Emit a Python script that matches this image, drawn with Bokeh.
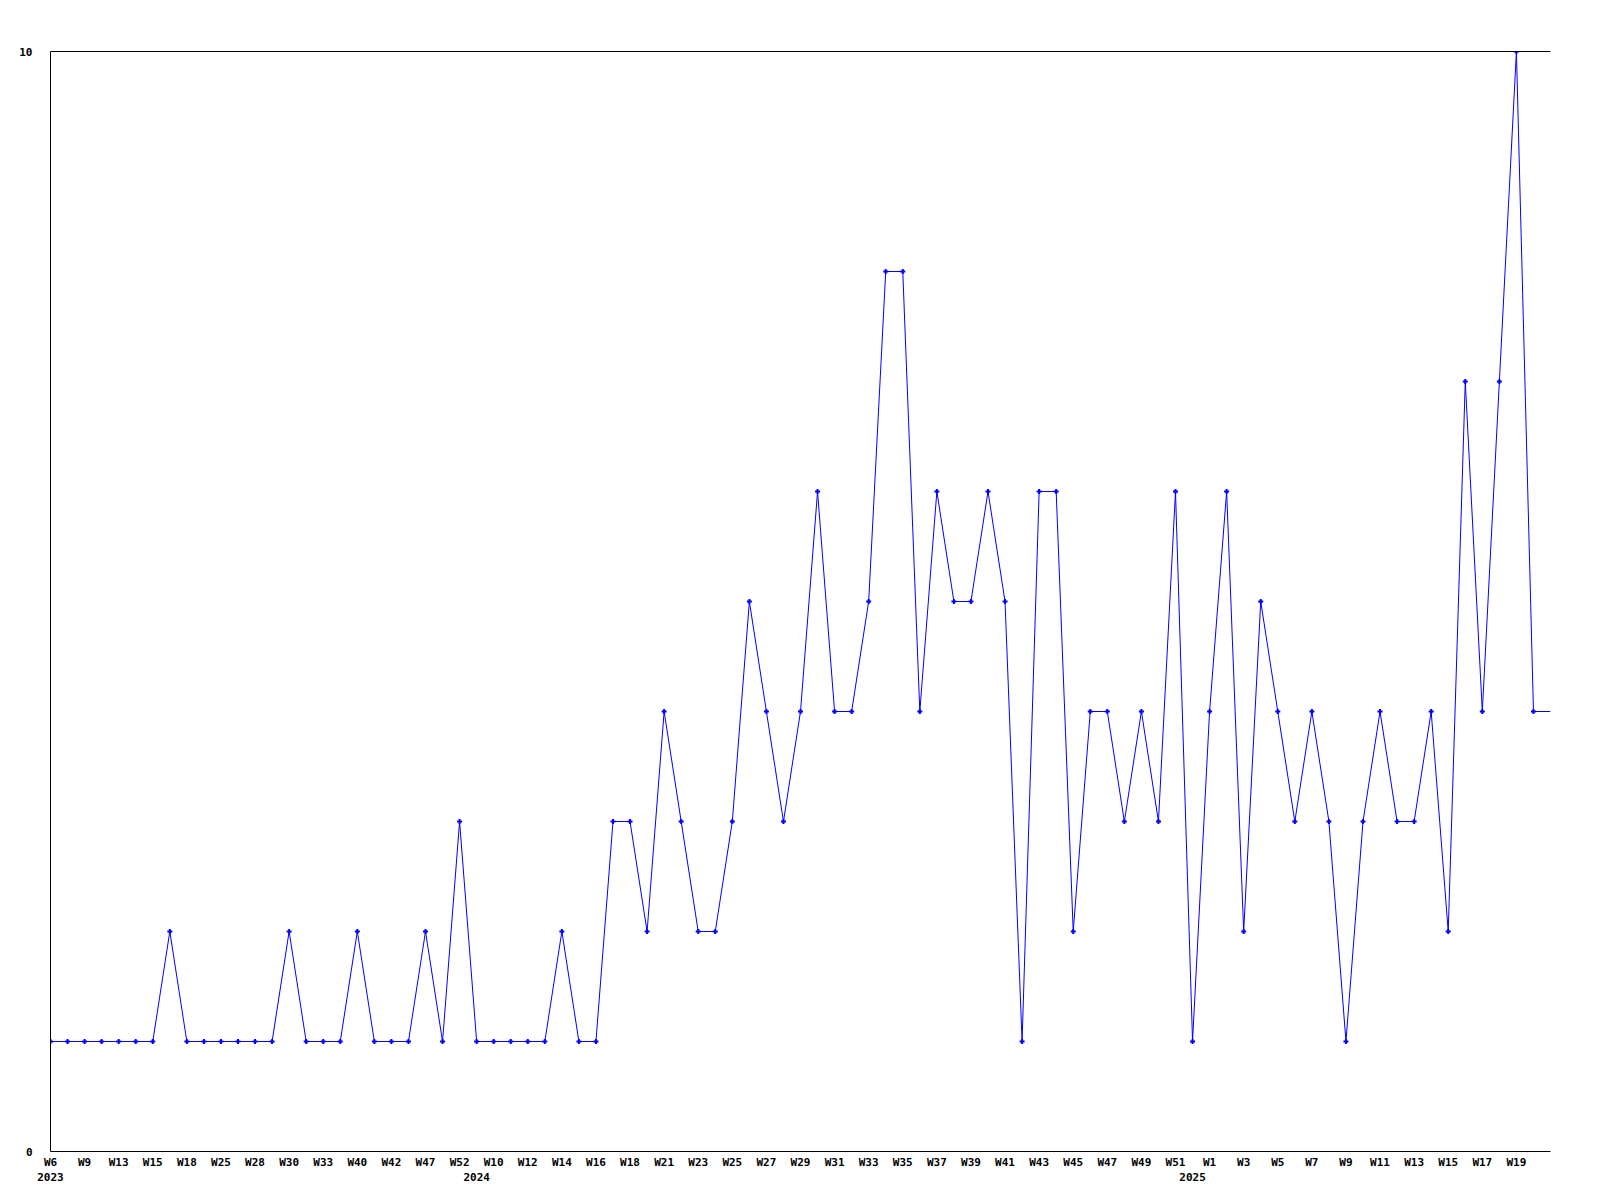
from bokeh.plotting import figure
from bokeh.models import Range1d, FixedTicker, LinearAxis, ColumnDataSource
from bokeh.embed import file_html
from bokeh.resources import INLINE

# ---- data (one point per recorded week) ----
years = [2023] * 25 + [2024] * 42 + [2025] * 22
weeks = [
    "W6", "W8", "W9", "W11", "W13", "W14", "W15", "W16", "W18", "W21",
    "W25", "W26", "W28", "W29", "W30", "W31", "W33", "W36", "W40", "W41",
    "W42", "W45", "W47", "W50", "W52",
    "W3", "W10", "W11", "W12", "W13", "W14", "W15", "W16", "W17", "W18",
    "W20", "W21", "W22", "W23", "W24", "W25", "W26", "W27", "W28", "W29",
    "W30", "W31", "W32", "W33", "W34", "W35", "W36", "W37", "W38", "W39",
    "W40", "W41", "W42", "W43", "W44", "W45", "W46", "W47", "W48", "W49",
    "W50", "W51",
    "W0", "W1", "W2", "W3", "W4", "W5", "W6", "W7", "W8", "W9",
    "W10", "W11", "W12", "W13", "W14", "W15", "W16", "W17", "W18", "W19",
    "W20", "W21",
]
values = [
    1, 1, 1, 1, 1, 1, 1, 2, 1, 1,
    1, 1, 1, 1, 2, 1, 1, 1, 2, 1,
    1, 1, 2, 1, 3,
    1, 1, 1, 1, 1, 2, 1, 1, 3, 3,
    2, 4, 3, 2, 2, 3, 5, 4, 3, 4,
    6, 4, 4, 5, 8, 8, 4, 6, 5, 5,
    6, 5, 1, 6, 6, 2, 4, 4, 3, 4,
    3, 6,
    1, 4, 6, 2, 5, 4, 3, 4, 3, 1,
    3, 4, 3, 3, 4, 2, 7, 4, 7, 10,
    4, 4,
]
y_ticks = [0, 10]

n = len(values)
idx = list(range(n))
FONT = "DejaVu Sans Mono"
BLUE = "#0000ff"

src_line = ColumnDataSource(dict(x=idx, y=values))
# the last (current, incomplete) week is drawn without a marker
src_pts = ColumnDataSource(dict(x=idx[:-1], y=values[:-1]))

p = figure(
    frame_width=1500, frame_height=1100,
    x_range=Range1d(0, n - 1), y_range=Range1d(0, 10),
    output_backend="svg", toolbar_location=None,
    min_border_left=50, min_border_top=51, min_border_right=34, min_border_bottom=10,
    x_axis_location=None, y_axis_location=None,
)
p.xgrid.visible = False
p.ygrid.visible = False
p.outline_line_color = None
p.background_fill_color = "white"
p.border_fill_color = "white"

p.line("x", "y", source=src_line, line_color=BLUE, line_width=1)
p.scatter("x", "y", source=src_pts, marker="cross", size=5, line_width=2, line_color=BLUE)

# y axis
yaxis = LinearAxis(ticker=FixedTicker(ticks=y_ticks))
yaxis.major_tick_line_color = None
yaxis.minor_tick_line_color = None
yaxis.axis_line_color = "black"
yaxis.axis_line_width = 1
yaxis.major_label_standoff = 12
yaxis.major_label_text_font = FONT
yaxis.major_label_text_font_style = "bold"
yaxis.major_label_text_font_size = "11px"
yaxis.major_label_text_color = "black"
p.add_layout(yaxis, "left")

# top border line
top = LinearAxis(ticker=FixedTicker(ticks=[]))
top.major_tick_line_color = None
top.minor_tick_line_color = None
top.major_label_text_font_size = "0px"
top.major_label_standoff = 0
top.axis_line_color = "black"
p.add_layout(top, "above")

# week labels (every second recorded week)
wk_ticks = idx[0:n - 1:2]
xaxis = LinearAxis(ticker=FixedTicker(ticks=wk_ticks))
xaxis.major_label_overrides = {i: weeks[i] for i in wk_ticks}
xaxis.major_tick_line_color = None
xaxis.minor_tick_line_color = None
xaxis.axis_line_color = "black"
xaxis.major_label_standoff = -2
xaxis.major_label_text_font = FONT
xaxis.major_label_text_font_style = "bold"
xaxis.major_label_text_font_size = "11px"
xaxis.major_label_text_color = "black"
p.add_layout(xaxis, "below")

# year labels at first point of each year
year_pos = [i for i in idx if i == 0 or years[i] != years[i - 1]]
yr_axis = LinearAxis(ticker=FixedTicker(ticks=year_pos))
yr_axis.major_label_overrides = {i: str(years[i]) for i in year_pos}
yr_axis.major_tick_line_color = None
yr_axis.minor_tick_line_color = None
yr_axis.axis_line_color = None
yr_axis.major_label_standoff = -5
yr_axis.major_label_text_font = FONT
yr_axis.major_label_text_font_style = "bold"
yr_axis.major_label_text_font_size = "11px"
yr_axis.major_label_text_color = "black"
p.add_layout(yr_axis, "below")

open("out.html", "w").write(file_html(p, INLINE))
